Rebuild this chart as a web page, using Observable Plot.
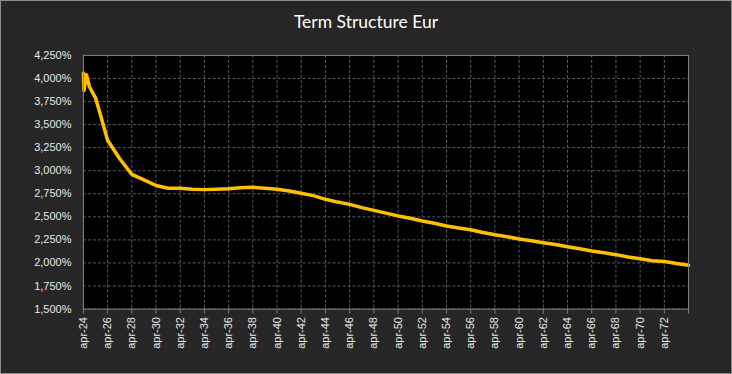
<!DOCTYPE html>
<html>
<head>
<meta charset="utf-8">
<script src="https://cdn.jsdelivr.net/npm/d3@7"></script>
<script src="https://cdn.jsdelivr.net/npm/@observablehq/plot@0.6"></script>
<style>
  html, body { margin: 0; padding: 0; background: #262626; }
  #wrap { position: relative; width: 732px; height: 374px; background: #262626; box-sizing: border-box; border: 1px solid #8c8c8c; overflow: hidden; }
  #title { position: absolute; left: 0; top: 10px; width: 730px; text-align: center; color: #ffffff; font-family: Lato, "Open Sans", sans-serif; font-size: 17.5px; }
  #chart { position: absolute; left: -1px; top: -1px; }
</style>
</head>
<body>
<div id="wrap">
  <div id="chart"></div>
  <div id="title">Term Structure Eur</div>
</div>
<script>
const years = [2024.0, 2024.05, 2024.25, 2024.5, 2024.75, 2025.0, 2025.4, 2026.0, 2027.0, 2028.0, 2029.0, 2030.0,
  2031, 2032, 2033, 2034, 2035, 2036, 2037, 2038, 2039, 2040, 2041, 2042, 2043, 2044, 2045, 2046, 2047, 2048, 2049,
  2050, 2051, 2052, 2053, 2054, 2055, 2056, 2057, 2058, 2059, 2060, 2061, 2062, 2063, 2064, 2065, 2066, 2067, 2068,
  2069, 2070, 2071, 2072, 2073, 2074];
const rates = [4.06, 3.87, 4.04, 3.91, 3.85, 3.79, 3.61, 3.33, 3.13, 2.96, 2.90, 2.84,
  2.81, 2.81, 2.80, 2.795, 2.80, 2.805, 2.815, 2.82, 2.81, 2.80, 2.78, 2.755, 2.73, 2.69, 2.66, 2.635, 2.60, 2.57, 2.54,
  2.51, 2.485, 2.455, 2.43, 2.40, 2.38, 2.36, 2.33, 2.305, 2.285, 2.26, 2.24, 2.22, 2.20, 2.175, 2.155, 2.13, 2.11, 2.09,
  2.065, 2.045, 2.025, 2.015, 1.995, 1.975];
const xTicks = d3.range(2024, 2075, 2);
const xTickLabels = xTicks.map(y => y === 2074 ? "" : "apr-" + String(y).slice(2));
const yTicks = d3.range(1.5, 4.2501, 0.25);

const data = years.map((y, i) => ({year: y, rate: rates[i]}));
const fmtY = v => v.toFixed(3).replace(".", ",") + "%";

const chart = Plot.plot({
  width: 732,
  height: 374,
  marginLeft: 83,
  marginRight: 43,
  marginTop: 55,
  marginBottom: 65,
  style: {background: "#262626", color: "#e6e6e6", fontFamily: "'Liberation Sans', Arial, sans-serif", fontSize: "11px"},
  x: {domain: [2024, 2074]},
  y: {domain: [1.5, 4.25]},
  marks: [
    Plot.frame({fill: "#000000", stroke: null}),
    Plot.gridX(xTicks, {stroke: "#5a5a5a", strokeOpacity: 1, strokeDasharray: "3,2"}),
    Plot.gridY(yTicks, {stroke: "#5a5a5a", strokeOpacity: 1, strokeDasharray: "3,2"}),
    Plot.line(data, {x: "year", y: "rate", stroke: "#FFC000", strokeWidth: 3.5, strokeLinejoin: "round"}),
    Plot.frame({stroke: "#808080", strokeWidth: 1}),
    Plot.axisY(yTicks, {tickSize: 0, tickPadding: 12, tickFormat: fmtY, label: null, stroke: "#808080"}),
    Plot.axisX(xTicks, {tickSize: 5, tickPadding: 3, tickRotate: -90, tickFormat: (d, i) => xTickLabels[i], label: null, stroke: "#808080"})
  ]
});
document.getElementById("chart").appendChild(chart);
</script>
</body>
</html>
